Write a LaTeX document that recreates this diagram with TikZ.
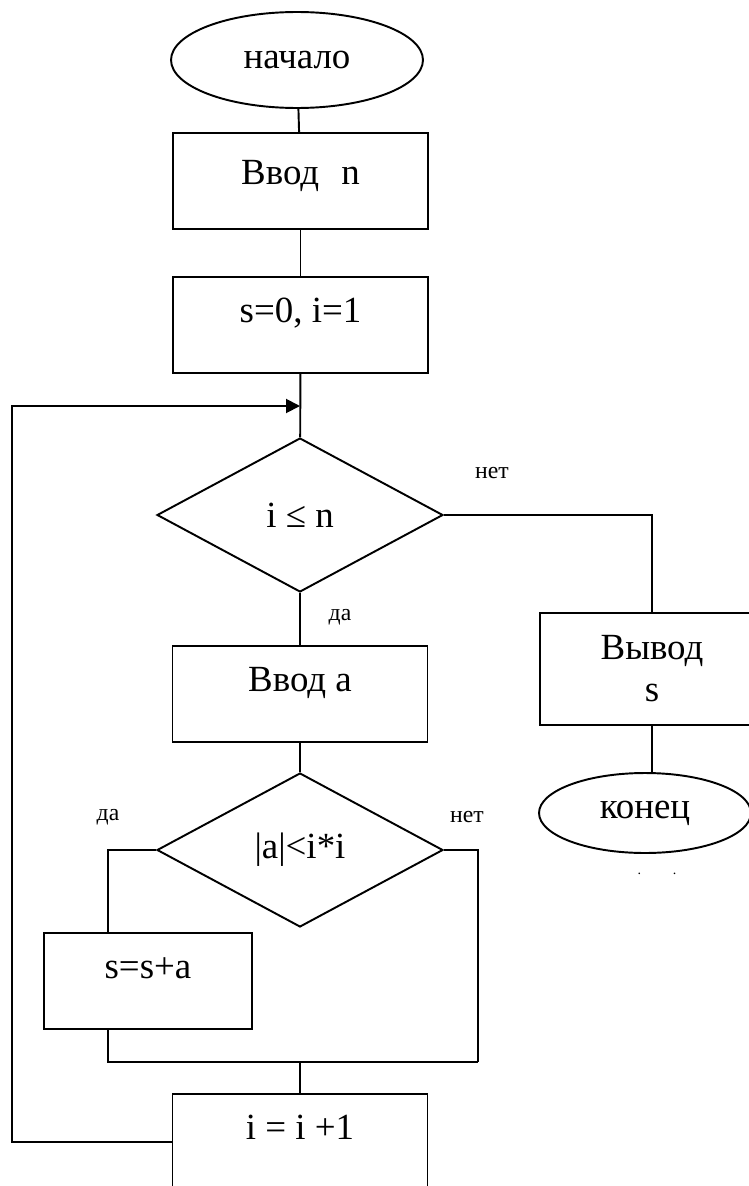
\documentclass[tikz,border=0pt]{standalone}
\usepackage{fontspec}
\setmainfont{Liberation Serif}
\usetikzlibrary{shapes.geometric,arrows.meta,calc}
\begin{document}
\begin{tikzpicture}[x=0.02cm,y=-0.02cm,line width=1.1pt,
        every node/.style={font=\fontsize{21}{24}\selectfont},
        block/.style={draw,rectangle,inner sep=2pt},
        proc/.style={block,minimum width=5.1cm,minimum height=1.92cm,text height=16pt,text depth=19pt},
        term/.style={draw,ellipse,inner sep=0pt},
        cond/.style={draw,diamond,aspect=1.86,inner sep=0pt,minimum width=5.72cm,minimum height=3.08cm},
        lbl/.style={font=\fontsize{13.5}{16}\selectfont},
        arr/.style={-{Triangle[length=0.28cm,width=0.28cm]}}]
    \useasboundingbox (0,0) rectangle (748,1186);
    \node[term,minimum width=5.04cm,minimum height=1.92cm] (start) at (297,60) {начало};
    \node[proc,text depth=12pt] (vvodn) at (300.5,181) {Ввод\hspace{0.6em}n};
    \node[proc] (init) at (300.5,325) {s=0, i=1};
    \node[cond] (d1) at (300,515) {i ≤ n};
    \node[proc] (vvoda) at (300,694) {Ввод а};
    \node[cond] (d2) at (300,850) {|a|<i*i};
    \node[proc,minimum width=4.16cm] (sum) at (148,981) {s=s+a};
    \node[proc] (inc) at (300,1142) {i = i +1};
    \node[block,align=center,minimum width=4.48cm,minimum height=2.24cm] (vyvod) at (652,669) {Вывод\\s};
    \node[term,minimum width=4.24cm,minimum height=1.6cm] (konec) at (645,813) {конец};
    \node[lbl] (net1) at (492,473) {нет};
    \node[lbl] (da1) at (340,617) {да};
    \node[lbl] (da2) at (108,817) {да};
    \node[lbl] (net2) at (467,817) {нет};
    \node[font=\fontsize{8}{8}\selectfont] (dots) at (657,874) {.\hspace{18pt}.};
    \coordinate (join) at (300,406);
    \coordinate (loopx) at (12,406);
    \coordinate (rgt) at (478,1062);
    \coordinate (merge) at (300,1062);
    \draw (start) -- (vvodn);
    \draw (vvodn) -- (init);
    \draw (init) -- (d1);
    \draw (d1) -- (vvoda);
    \draw (vvoda) -- (d2);
    \draw (d1.east) -| (vyvod.north);
    \draw (vyvod.south) -- (vyvod.south |- konec.north);
    \draw (d2.west) -| ($(sum.north)+(-40,0)$);
    \draw (d2.east) -| (rgt);
    \draw ($(sum.south)+(-40,0)$) |- (rgt);
    \draw (merge) -- (inc);
    \draw[arr] (inc.west) -| (loopx) -- (join);
\end{tikzpicture}
\end{document}
